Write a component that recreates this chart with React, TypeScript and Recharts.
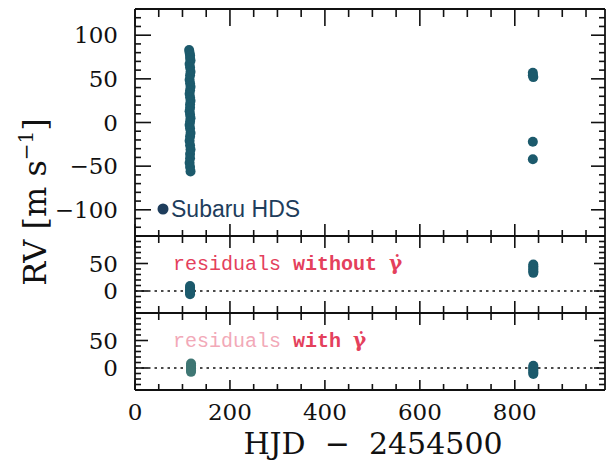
import React from 'react';
import { ScatterChart, Scatter, XAxis, YAxis, ReferenceLine } from 'recharts';

// ---- data ----
const hjdTicks = [0, 50, 100, 150, 200, 250, 300, 350, 400, 450, 500, 550, 600, 650, 700, 750, 800, 850, 900, 950];
const hjdMajor = [0, 200, 400, 600, 800];
const rvTicks = [-130, -120, -110, -100, -90, -80, -70, -60, -50, -40, -30, -20, -10, 0, 10, 20, 30, 40, 50, 60, 70, 80, 90, 100, 110, 120, 130];
const rvMajor = [-100, -50, 0, 50, 100];
const resTicks = [-40, -30, -20, -10, 0, 10, 20, 30, 40, 50, 60, 70, 80, 90, 100];
const resMajor = [0, 50];

const earlyHjd = [114, 115, 116, 116, 117, 115, 116, 117, 116, 115, 116, 117, 116, 115, 116, 117, 116, 116, 115, 116, 117, 116, 115, 116, 117, 116, 115, 116, 117, 116, 116, 115, 116, 117];
const earlyRv = [83, 80, 77, 74, 71, 67, 63, 58, 54, 49, 45, 41, 37, 33, 29, 25, 21, 17, 13, 9, 5, 1, -3, -7, -12, -16, -21, -26, -31, -36, -41, -46, -51, -56];
const lateHjd = [838, 838, 839, 838, 838];
const lateRv = [57, 54, 52, -22, -42];

const resNoEarlyHjd = [116, 116, 116, 116, 116, 116];
const resNoEarly = [9, 6, 3, 0, -3, -6];
const resNoLateHjd = [839, 839, 839, 839, 839, 839];
const resNoLate = [48, 45, 42, 39, 36, 33];

const resWithEarlyHjd = [118, 118, 118, 118, 118, 118];
const resWithEarly = [8, 5, 2, -1, -4, -7];
const resWithLateHjd = [839, 839, 839, 839, 839, 839];
const resWithLate = [4, 1, -2, -5, -8, -11];

const zip = (xs: number[], ys: number[]) => xs.map((x, i) => ({ x, y: ys[i] }));

const INK = '#111';
const DOT = '#1c5a6c';
const FAINT = '#3f7774';
const RED = '#e4405c';
const SERIF = 'DejaVu Serif';

const fmt = (v: number) => (v < 0 ? '\u2212' + Math.abs(v) : String(v));

function xTick(side: 'top' | 'bottom', major: number, minor: number, label: boolean) {
  return (props: any) => {
    const { x, y, payload } = props;
    const v = payload.value;
    const isMajor = hjdMajor.includes(v);
    const len = isMajor ? major : minor;
    const dir = side === 'bottom' ? -1 : 1;
    return (
      <g>
        <line x1={x} x2={x} y1={y} y2={y + dir * len} stroke={INK} strokeWidth={1.6} />
        {label && isMajor ? (
          <text x={x} y={y + 30} textAnchor="middle" fontFamily={SERIF} fontSize={23} fill={INK}>
            {v}
          </text>
        ) : null}
      </g>
    );
  };
}

function yTick(side: 'left' | 'right', majors: number[], major: number, minor: number, label: boolean) {
  return (props: any) => {
    const { x, y, payload } = props;
    const v = payload.value;
    const isMajor = majors.includes(v);
    const len = isMajor ? major : minor;
    const dir = side === 'left' ? 1 : -1;
    return (
      <g>
        <line x1={x} x2={x + dir * len} y1={y} y2={y} stroke={INK} strokeWidth={1.6} />
        {label && isMajor ? (
          <text x={x - 17} y={y + 8} textAnchor="end" fontFamily={SERIF} fontSize={23} fill={INK}>
            {fmt(v)}
          </text>
        ) : null}
      </g>
    );
  };
}

const dot = (color: string) => (p: any) => <circle cx={p.cx} cy={p.cy} r={5} fill={color} />;

type PanelProps = {
  top: number;
  bottom: number;
  yDomain: [number, number];
  yTicks: number[];
  yMajors: number[];
  xTopLen: [number, number];
  xBotLen: [number, number];
  yLen: [number, number];
  xLabels: boolean;
  zeroLine: boolean;
  series: { data: { x: number; y: number }[]; color: string; opacity?: number }[];
};

function Panel(p: PanelProps) {
  const axisCommon = {
    type: 'number' as const,
    allowDataOverflow: true,
    tickLine: false,
    tickSize: 0,
    tickMargin: 0,
    interval: 0 as const,
    axisLine: { stroke: INK, strokeWidth: 1.8 },
  };
  return (
    <div style={{ position: 'absolute', left: 0, top: 0 }}>
      <ScatterChart width={609} height={467} margin={{ top: p.top - 1, right: 3, bottom: 467 - p.bottom - 1, left: 134 }}>
        <XAxis xAxisId="b" dataKey="x" orientation="bottom" domain={[0, 990]} ticks={hjdTicks} height={1} tick={xTick('bottom', p.xBotLen[0], p.xBotLen[1], p.xLabels)} {...axisCommon} />
        <XAxis xAxisId="t" dataKey="x" orientation="top" domain={[0, 990]} ticks={hjdTicks} height={1} tick={xTick('top', p.xTopLen[0], p.xTopLen[1], false)} {...axisCommon} />
        <YAxis yAxisId="l" dataKey="y" orientation="left" domain={p.yDomain} ticks={p.yTicks} width={1} tick={yTick('left', p.yMajors, p.yLen[0], p.yLen[1], true)} {...axisCommon} />
        <YAxis yAxisId="r" dataKey="y" orientation="right" domain={p.yDomain} ticks={p.yTicks} width={1} tick={yTick('right', p.yMajors, p.yLen[0] - 2, p.yLen[1], false)} {...axisCommon} />
        {p.zeroLine ? (
          <ReferenceLine xAxisId="b" yAxisId="l" y={0} stroke={INK} strokeWidth={1.6} strokeDasharray="2.5 4" />
        ) : null}
        {p.series.map((s, i) => (
          <Scatter key={i} xAxisId="b" yAxisId="l" data={s.data} fill={s.color} isAnimationActive={false} shape={dot(s.color)} opacity={s.opacity ?? 1} />
        ))}
      </ScatterChart>
    </div>
  );
}

export default function App() {
  return (
    <div style={{ position: 'absolute', left: 0, top: 0, width: 609, height: 467, background: '#fff' }}>
      <Panel
        top={9}
        bottom={236}
        yDomain={[-130, 130]}
        yTicks={rvTicks}
        yMajors={rvMajor}
        xTopLen={[17, 8]}
        xBotLen={[12, 6]}
        yLen={[16, 6]}
        xLabels={false}
        zeroLine={false}
        series={[
          { data: zip(earlyHjd, earlyRv), color: DOT },
          { data: zip(lateHjd, lateRv), color: DOT },
        ]}
      />
      <Panel
        top={236}
        bottom={313}
        yDomain={[-40, 100]}
        yTicks={resTicks}
        yMajors={resMajor}
        xTopLen={[12, 7]}
        xBotLen={[12, 7]}
        yLen={[13, 6]}
        xLabels={false}
        zeroLine={true}
        series={[
          { data: zip(resNoEarlyHjd, resNoEarly), color: DOT },
          { data: zip(resNoLateHjd, resNoLate), color: DOT },
        ]}
      />
      <Panel
        top={313}
        bottom={390}
        yDomain={[-40, 100]}
        yTicks={resTicks}
        yMajors={resMajor}
        xTopLen={[12, 7]}
        xBotLen={[10, 6]}
        yLen={[13, 6]}
        xLabels={true}
        zeroLine={true}
        series={[
          { data: zip(resWithEarlyHjd, resWithEarly), color: FAINT, opacity: 0.85 },
          { data: zip(resWithLateHjd, resWithLate), color: DOT },
        ]}
      />
      <svg width={609} height={467} style={{ position: 'absolute', left: 0, top: 0, pointerEvents: 'none' }}>
        <circle cx={163} cy={209} r={5.5} fill="#1e3d5c" />
        <text x={171} y={217} fontFamily="Liberation Sans" fontSize={23} fill="#1e3d5c">
          Subaru HDS
        </text>
        <text x={173} y={270} fontFamily="Liberation Mono" fontSize={20} fill={RED} style={{ whiteSpace: 'pre' }}>
          <tspan>{'residuals '}</tspan>
          <tspan fontWeight="bold">{'without '}</tspan>
          <tspan fontWeight="bold" fontFamily={SERIF}>{'\u03B3\u0307'}</tspan>
        </text>
        <text x={173} y={347} fontFamily="Liberation Mono" fontSize={20} fill={RED} style={{ whiteSpace: 'pre' }}>
          <tspan fill="#f2a9b8">{'residuals '}</tspan>
          <tspan fontWeight="bold">{'with '}</tspan>
          <tspan fontWeight="bold" fontFamily={SERIF}>{'\u03B3\u0307'}</tspan>
        </text>
        <text x={373} y={454} textAnchor="middle" fontFamily={SERIF} fontSize={30} fill={INK} style={{ whiteSpace: 'pre' }}>
          {'HJD  \u2212  2454500'}
        </text>
        <text transform="translate(46,202) rotate(-90)" textAnchor="middle" fontFamily={SERIF} fontSize={32} fill={INK} style={{ whiteSpace: 'pre' }}>
          <tspan>{'RV [m s'}</tspan>
          <tspan fontSize={20} dy={-13}>{'\u22121'}</tspan>
          <tspan dy={13}>{']'}</tspan>
        </text>
      </svg>
    </div>
  );
}
